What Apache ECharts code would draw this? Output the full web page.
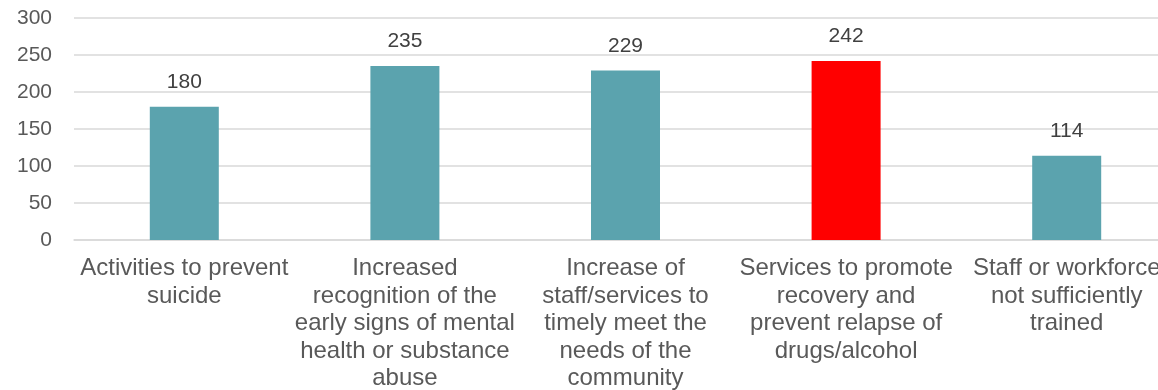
<!DOCTYPE html>
<html>
<head>
<meta charset="utf-8">
<script src="https://cdn.jsdelivr.net/npm/echarts@6/dist/echarts.min.js"></script>
<style>
html,body{margin:0;padding:0;background:#fff;}
#chart{width:1158px;height:390px;}
</style>
</head>
<body>
<div id="chart"></div>
<script>
const categories = [
  "Activities to prevent\nsuicide",
  "Increased\nrecognition of the\nearly signs of mental\nhealth or substance\nabuse",
  "Increase of\nstaff/services to\ntimely meet the\nneeds of the\ncommunity",
  "Services to promote\nrecovery and\nprevent relapse of\ndrugs/alcohol",
  "Staff or workforce\nnot sufficiently\ntrained"
];
const values = [180, 235, 229, 242, 114];
const barColors = ["#5BA3AE", "#5BA3AE", "#5BA3AE", "#FF0000", "#5BA3AE"];
const yTicks = [0, 50, 100, 150, 200, 250, 300];

const font = "'Liberation Sans', Arial, sans-serif";
const chart = echarts.init(document.getElementById('chart'), null, {renderer: 'canvas'});
chart.setOption({
  animation: false,
  grid: {left: 74, width: 1103, top: 18, height: 222, containLabel: false, outerBoundsMode: 'none'},
  xAxis: {
    type: 'category',
    data: categories,
    axisLine: {show: true, lineStyle: {color: '#D9D9D9', width: 1.5}},
    axisTick: {show: false},
    axisLabel: {interval: 0, color: '#595959', fontFamily: font, fontSize: 24, lineHeight: 27.5, margin: 15}
  },
  yAxis: {
    type: 'value',
    min: yTicks[0],
    max: yTicks[yTicks.length - 1],
    interval: 50,
    axisLine: {show: false},
    axisTick: {show: false},
    splitLine: {lineStyle: {color: '#D9D9D9', width: 1.5}},
    axisLabel: {color: '#595959', fontFamily: font, fontSize: 21, margin: 22}
  },
  series: [{
    type: 'bar',
    barWidth: 69,
    data: values.map((v, i) => ({value: v, itemStyle: {color: barColors[i]}})),
    label: {show: true, position: 'top', distance: 14, color: '#404040', fontFamily: font, fontSize: 21}
  }]
});
</script>
</body>
</html>
